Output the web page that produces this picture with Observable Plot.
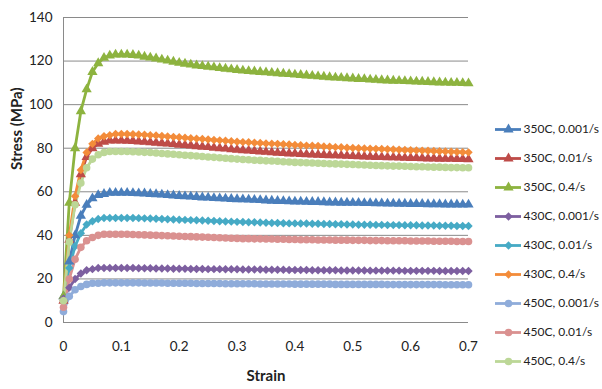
<!DOCTYPE html>
<html>
<head>
<meta charset="utf-8">
<script src="https://cdn.jsdelivr.net/npm/d3@7"></script>
<script src="https://cdn.jsdelivr.net/npm/@observablehq/plot@0.6"></script>
<style>
  html, body { margin: 0; padding: 0; background: #fff; }
  #wrap { position: relative; width: 602px; height: 389px; overflow: hidden; font-family: Lato, "Open Sans", sans-serif; }
  #legend { position: absolute; left: 488px; top: 114px; }
</style>
</head>
<body>
<div id="wrap"><div id="chart"></div><div id="legend"></div></div>
<script>
const strain = [0,0.01,0.02,0.03,0.04,0.05,0.06,0.07,0.08,0.09,0.1,
  0.11,0.12,0.13,0.14,0.15,0.16,0.17,0.18,0.19,0.2,
  0.21,0.22,0.23,0.24,0.25,0.26,0.27,0.28,0.29,0.3,
  0.31,0.32,0.33,0.34,0.35,0.36,0.37,0.38,0.39,0.4,
  0.41,0.42,0.43,0.44,0.45,0.46,0.47,0.48,0.49,0.5,
  0.51,0.52,0.53,0.54,0.55,0.56,0.57,0.58,0.59,0.6,
  0.61,0.62,0.63,0.64,0.65,0.66,0.67,0.68,0.69,0.7];

const seriesNames = ["350C, 0.001/s","350C, 0.01/s","350C, 0.4/s","430C, 0.001/s","430C, 0.01/s","430C, 0.4/s","450C, 0.001/s","450C, 0.01/s","450C, 0.4/s"];
const seriesColors = ["#4A7EBB","#BE4B48","#8DB33F","#7D5FA0","#46AAC5","#F38C3A","#8FACDA","#DA9190","#BCD797"];
const seriesSymbols = ["triangle","triangle","triangle","diamond2","diamond2","diamond2","circle","circle","circle"];

const s350_0001 = [12,28,40,49,54,57,58.5,59,59.5,59.5,59.5,
  59.5,59.4,59.3,59.2,59,58.9,58.7,58.5,58.3,58.1,
  57.9,57.8,57.6,57.4,57.3,57.1,57,56.9,56.7,56.6,
  56.5,56.4,56.3,56.2,56,55.9,55.8,55.7,55.6,55.5,
  55.5,55.4,55.3,55.3,55.2,55.1,55.1,55,55,54.9,
  54.9,54.8,54.8,54.7,54.7,54.6,54.6,54.5,54.5,54.4,
  54.4,54.4,54.3,54.3,54.3,54.2,54.2,54.2,54.1,54.1];
const s350_001 = [10,38,55,68,76,80,82,83,83.5,83.5,83.5,
  83.4,83.3,83.1,82.9,82.7,82.5,82.3,82.1,81.9,81.6,
  81.4,81.2,80.9,80.7,80.5,80.2,80,79.8,79.5,79.3,
  79.1,78.9,78.7,78.5,78.3,78.1,77.9,77.8,77.6,77.5,
  77.3,77.2,77.1,77,76.9,76.8,76.7,76.6,76.5,76.4,
  76.3,76.2,76.1,76,75.9,75.8,75.8,75.7,75.6,75.5,
  75.5,75.4,75.3,75.3,75.2,75.1,75.1,75,75,74.9];
const s350_04 = [12,55,80,97,107,115,119,121.5,122.5,123,123,
  123,122.8,122.5,122,121.6,121.2,120.7,120.2,119.7,119.2,
  118.8,118.4,118,117.7,117.4,117.1,116.8,116.5,116.2,115.9,
  115.6,115.4,115.2,115,114.8,114.6,114.4,114.2,114,113.8,
  113.6,113.4,113.2,113,112.8,112.6,112.4,112.3,112.1,112,
  111.8,111.7,111.5,111.4,111.2,111.1,111,110.9,110.8,110.7,
  110.6,110.5,110.4,110.3,110.2,110.1,110,110,109.9,109.8];
const s430_0001 = [11,16,20,22.5,24,24.5,25,25,25,25,25,
  25,25,24.9,24.9,24.9,24.8,24.8,24.8,24.7,24.7,
  24.7,24.6,24.6,24.6,24.5,24.5,24.5,24.4,24.4,24.4,
  24.3,24.3,24.3,24.3,24.2,24.2,24.2,24.2,24.1,24.1,
  24.1,24.1,24,24,24,24,24,23.9,23.9,23.9,
  23.9,23.9,23.8,23.8,23.8,23.8,23.8,23.8,23.7,23.7,
  23.7,23.7,23.7,23.7,23.6,23.6,23.6,23.6,23.6,23.6];
const s430_001 = [10,25,35,41,45,46.5,47.5,48,48,48,48,
  48,48,47.9,47.8,47.7,47.6,47.5,47.4,47.3,47.2,
  47.1,47,46.9,46.8,46.7,46.6,46.5,46.4,46.3,46.2,
  46.1,46,46,45.9,45.8,45.7,45.7,45.6,45.5,45.5,
  45.4,45.4,45.3,45.3,45.2,45.2,45.1,45.1,45,45,
  44.9,44.9,44.9,44.8,44.8,44.7,44.7,44.7,44.6,44.6,
  44.6,44.5,44.5,44.5,44.4,44.4,44.4,44.3,44.3,44.3];
const s430_04 = [10,40,58,70,78,82,84.5,85.5,86,86.5,86.5,
  86.5,86.4,86.3,86.2,86,85.8,85.6,85.4,85.2,85,
  84.8,84.6,84.4,84.2,84,83.8,83.6,83.4,83.2,83,
  82.8,82.7,82.5,82.4,82.2,82.1,82,81.8,81.7,81.5,
  81.4,81.2,81.1,81,80.8,80.7,80.5,80.4,80.2,80.1,
  80,79.9,79.8,79.7,79.6,79.5,79.4,79.3,79.2,79.1,
  79,78.9,78.8,78.7,78.6,78.5,78.4,78.3,78.2,78.1];
const s450_0001 = [5,12,15,16.5,17.5,18,18,18.2,18.2,18.2,18.2,
  18.2,18.2,18.2,18.1,18.1,18.1,18.1,18,18,18,
  18,18,17.9,17.9,17.9,17.9,17.9,17.8,17.8,17.8,
  17.8,17.8,17.8,17.7,17.7,17.7,17.7,17.7,17.7,17.6,
  17.6,17.6,17.6,17.6,17.6,17.6,17.5,17.5,17.5,17.5,
  17.5,17.5,17.5,17.5,17.5,17.4,17.4,17.4,17.4,17.4,
  17.4,17.4,17.4,17.4,17.4,17.3,17.3,17.3,17.3,17.3];
const s450_001 = [7,20,29,34.5,37.5,39,40,40.5,40.5,40.5,40.5,
  40.5,40.4,40.3,40.2,40.1,40,39.9,39.8,39.7,39.6,
  39.5,39.4,39.3,39.2,39.1,39,38.9,38.8,38.7,38.6,
  38.5,38.5,38.4,38.4,38.3,38.3,38.2,38.2,38.1,38.1,
  38,38,38,37.9,37.9,37.9,37.8,37.8,37.8,37.7,
  37.7,37.7,37.6,37.6,37.6,37.5,37.5,37.5,37.5,37.4,
  37.4,37.4,37.4,37.3,37.3,37.3,37.3,37.2,37.2,37.2];
const s450_04 = [10,37,54,64,71,75,77,78,78.5,78.5,78.5,
  78.5,78.4,78.3,78.1,78,77.8,77.6,77.4,77.2,77,
  76.8,76.6,76.4,76.2,76,75.8,75.6,75.4,75.2,75,
  74.8,74.7,74.5,74.4,74.2,74.1,74,73.8,73.7,73.5,
  73.4,73.3,73.2,73.1,73,72.9,72.8,72.7,72.6,72.5,
  72.4,72.3,72.2,72.1,72,71.9,71.8,71.8,71.7,71.6,
  71.5,71.5,71.4,71.3,71.3,71.2,71.1,71.1,71,71];

const yTicks = [0,20,40,60,80,100,120,140];
const xTicks = [0,0.1,0.2,0.3,0.4,0.5,0.6,0.7];
const xTickLabels = ["0","0.1","0.2","0.3","0.4","0.5","0.6","0.7"];

const allSeries = [s350_0001,s350_001,s350_04,s430_0001,s430_001,s430_04,s450_0001,s450_001,s450_04];
const rows = [];
allSeries.forEach((vals, k) => vals.forEach((v, i) => rows.push({series: seriesNames[k], strain: strain[i], stress: v})));

const font = "Lato, 'Open Sans', sans-serif";

const chart = Plot.plot({
  width: 602, height: 389,
  marginLeft: 63, marginRight: 134, marginTop: 17, marginBottom: 67,
  style: {fontFamily: font, fontSize: "13.5px", color: "#222", background: "#fff"},
  x: {domain: [0, 0.7], ticks: xTicks, tickFormat: (d, i) => xTickLabels[i], tickSize: 0, tickPadding: 19, label: null},
  y: {domain: [0, 140], ticks: yTicks, tickSize: 0, tickPadding: 11, label: null},
  color: {domain: seriesNames, range: seriesColors},
  symbol: {domain: seriesNames, range: seriesSymbols},
  marks: [
    Plot.gridY(yTicks, {stroke: "#8a8a8a", strokeOpacity: 1, strokeWidth: 1}),
    Plot.ruleX([0], {stroke: "#8a8a8a", strokeWidth: 1}),
    Plot.ruleY([0], {stroke: "#8a8a8a", strokeWidth: 1}),
    Plot.line(rows, {x: "strain", y: "stress", z: "series", stroke: "series", strokeWidth: 2.8}),
    Plot.dot(rows, {x: "strain", y: "stress", stroke: null, fill: "series", symbol: "series", r: 3.8}),
    Plot.text(["Stress (MPa)"], {frameAnchor: "left", rotate: -90, dx: -46, fontWeight: "bold", fontSize: 15, fill: "#222"}),
    Plot.text(["Strain"], {frameAnchor: "bottom", dy: 58, fontWeight: "bold", fontSize: 15, fill: "#222"})
  ]
});
document.getElementById("chart").appendChild(chart);

const legend = Plot.plot({
  width: 114, height: 264,
  marginLeft: 7, marginRight: 81, marginTop: 13, marginBottom: 16,
  style: {fontFamily: font, fontSize: "12px", color: "#222", background: "transparent", overflow: "visible"},
  x: {domain: [0, 1], axis: null},
  y: {type: "point", domain: seriesNames, axis: null, padding: 0},
  color: {domain: seriesNames, range: seriesColors},
  symbol: {domain: seriesNames, range: seriesSymbols},
  marks: [
    Plot.ruleY(seriesNames, {y: d => d, x1: 0, x2: 1, stroke: d => d, strokeWidth: 2.8}),
    Plot.dot(seriesNames, {x: 0.5, y: d => d, fill: d => d, symbol: d => d, r: 3.8}),
    Plot.text(seriesNames, {x: 1, y: d => d, text: d => d, dx: 2, textAnchor: "start", fill: "#222", fontSize: 12})
  ]
});
document.getElementById("legend").appendChild(legend);
</script>
</body>
</html>
